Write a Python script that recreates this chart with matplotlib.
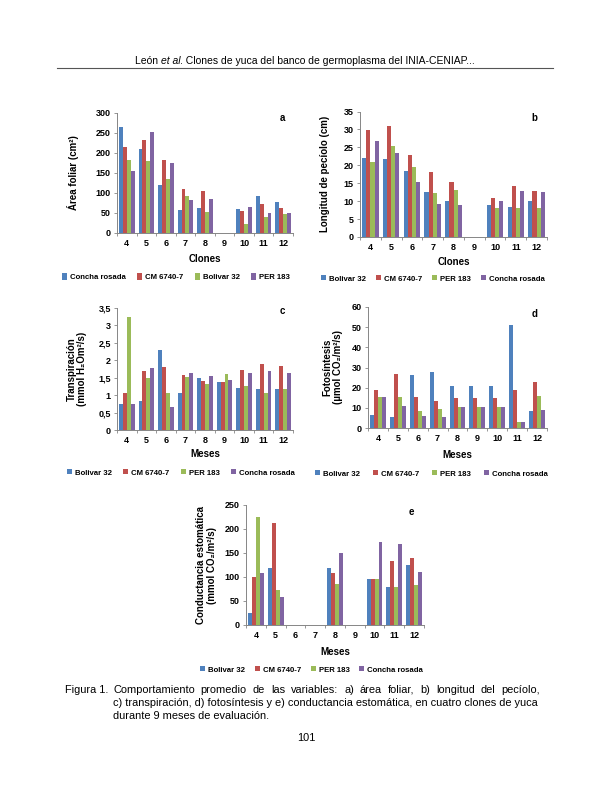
import numpy as np
import matplotlib
matplotlib.use("Agg")
import matplotlib.pyplot as plt

plt.rcParams['font.family'] = ['Liberation Sans', 'DejaVu Sans']

# categories (clones / months)
months = ['4', '5', '6', '7', '8', '9', '10', '11', '12']

# a) leaf area (cm2) - legend: Concha rosada, CM 6740-7, Bolivar 32, PER 183
area_labels = ['Concha rosada', 'CM 6740-7', 'Bolivar 32', 'PER 183']
area_s1 = [264, 211, 121, 57, 62, 0, 61, 92, 77]
area_s2 = [215, 232, 182, 110, 104, 0, 56, 73, 63]
area_s3 = [182, 179, 134, 92, 52, 0, 22, 40, 48]
area_s4 = [156, 252, 175, 82, 86, 0, 64, 51, 51]

# shared legend for panels b-e
clone_labels = ['Bolivar 32', 'CM 6740-7', 'PER 183', 'Concha rosada']

# b) petiole length (cm)
pet_bol = [22, 21.8, 18.5, 12.5, 10, 0, 9, 8.5, 10.1]
pet_cm = [29.8, 31, 22.9, 18.2, 15.3, 0, 11, 14.2, 12.9]
pet_per = [21, 25.3, 19.4, 12.2, 13, 0, 8.2, 8, 8.2]
pet_con = [26.8, 23.5, 15.4, 9.3, 8.8, 0, 10, 12.7, 12.5]

# c) transpiration (mmol H2O m2/s)
tra_bol = [0.74, 0.83, 2.29, 1.07, 1.49, 1.39, 1.21, 1.18, 1.18]
tra_cm = [1.07, 1.70, 1.82, 1.58, 1.42, 1.39, 1.72, 1.90, 1.84]
tra_per = [3.24, 1.49, 1.05, 1.52, 1.33, 1.60, 1.25, 1.07, 1.18]
tra_con = [0.75, 1.79, 0.67, 1.64, 1.56, 1.44, 1.63, 1.68, 1.64]

# d) photosynthesis (umol CO2/m2/s)
fot_bol = [6.6, 5.6, 26.1, 27.6, 20.6, 20.6, 20.6, 51.2, 8.2]
fot_cm = [18.8, 26.6, 15.5, 13.2, 15.0, 15.0, 15.0, 18.9, 22.7]
fot_per = [15.3, 15.6, 8.2, 9.4, 10.4, 10.4, 10.4, 3.1, 15.8]
fot_con = [15.3, 11.0, 6.1, 5.6, 10.4, 10.4, 10.4, 3.1, 9.0]

# e) stomatal conductance (mmol CO2/m2/s)
con_bol = [25, 118, 0, 0, 119, 0, 95, 80, 126]
con_cm = [99, 213, 0, 0, 108, 0, 96, 133, 140]
con_per = [226, 72, 0, 0, 85, 0, 96, 80, 83]
con_con = [108, 58, 0, 0, 150, 0, 173, 168, 110]

colors = ['#4F81BD', '#C0504D', '#9BBB59', '#8064A2']

W, H = 612, 792
fig = plt.figure(figsize=(W / 100, H / 100), dpi=100)
renderer = fig.canvas.get_renderer()
LEG_FS = 5.6


def px_axes(left, top, right, bottom):
    return fig.add_axes([left / W, 1 - bottom / H, (right - left) / W, (bottom - top) / H])


def make_legend(bars, labels, cx, cy, colspace, hh):
    return fig.legend(bars, labels, loc='center', ncol=4, frameon=False,
                      bbox_to_anchor=(cx / W, 1 - cy / H),
                      prop={'size': LEG_FS, 'weight': 'bold'},
                      handlelength=0.65, handleheight=hh, handletextpad=0.35,
                      columnspacing=colspace, borderpad=0)


def panel(ax, series, labels, ylim, yticks, yticklabels, ylabel, xlabel, letter,
          letter_xy, ylab_x, xlab_y, leg_span, leg_y, hh=0.6):
    x = np.arange(len(months))
    width = 0.2
    bars = []
    for i, (vals, c) in enumerate(zip(series, colors)):
        b = ax.bar(x + (i - 1.5) * width, vals, width, color=c, linewidth=0)
        bars.append(b)
    ax.set_xlim(-0.5, len(months) - 0.5)
    ax.set_ylim(*ylim)
    ax.set_yticks(yticks)
    ax.set_yticklabels(yticklabels, fontsize=6.5, fontweight='bold')
    ax.set_xticks(x)
    ax.set_xticklabels(months, fontsize=6.5, fontweight='bold')
    ax.set_xticks(np.arange(-0.5, len(months)), minor=True)
    ax.tick_params(axis='x', which='major', length=0, pad=4)
    ax.tick_params(axis='x', which='minor', length=2.5, color='#868686', width=0.6)
    ax.tick_params(axis='y', length=2.5, color='#868686', width=0.6, pad=2)
    for s in ['top', 'right']:
        ax.spines[s].set_visible(False)
    for s in ['left', 'bottom']:
        ax.spines[s].set_color('#868686')
        ax.spines[s].set_linewidth(0.7)
    ax.set_ylabel(ylabel, fontsize=7, fontweight='bold', linespacing=1.1)
    ax.yaxis.set_label_coords(ylab_x, 0.5)
    ax.yaxis.label.set_va('center')
    ax.set_xlabel(xlabel, fontsize=7, fontweight='bold')
    ax.xaxis.set_label_coords(0.5, xlab_y)
    ax.xaxis.label.set_va('center')
    ax.text(letter_xy[0], letter_xy[1], letter, transform=ax.transAxes,
            fontsize=7, fontweight='bold', ha='center', va='center')
    # legend fitted to the span it has in the page
    x0, x1 = leg_span
    cx = (x0 + x1) / 2
    cs = 1.5
    leg = make_legend(bars, labels, cx, leg_y, cs, hh)
    w = leg.get_window_extent(renderer).width
    leg.remove()
    cs = max(0.3, cs + (x1 - x0 - w) / 3 / (LEG_FS * 100 / 72))
    make_legend(bars, labels, cx, leg_y, cs, hh)


# a
ax = px_axes(117, 113, 293, 233)
panel(ax, [area_s1, area_s2, area_s3, area_s4], area_labels, (0, 300),
      range(0, 301, 50), [str(v) for v in range(0, 301, 50)],
      'Área foliar (cm²)', 'Clones', 'a', (0.94, 0.96), -0.25, -0.217,
      (62, 290), 277, hh=1.0)

# b
ax = px_axes(360, 111.5, 547, 237)
panel(ax, [pet_bol, pet_cm, pet_per, pet_con], clone_labels, (0, 35),
      range(0, 36, 5), [str(v) for v in range(0, 36, 5)],
      'Longitud de pecíolo (cm)', 'Clones', 'b', (0.93, 0.95), -0.187, -0.2,
      (321, 545), 279)

# c
tc = np.arange(0, 3.51, 0.5)
ax = px_axes(117, 308, 293, 430)
panel(ax, [tra_bol, tra_cm, tra_per, tra_con], clone_labels, (0, 3.5),
      tc, [f'{v:g}'.replace('.', ',') for v in tc],
      'Transpiración\n(mmol H₂Om²/s)', 'Meses', 'c', (0.94, 0.975), -0.227, -0.197,
      (67, 295), 473)

# d
ax = px_axes(368, 307, 547, 428)
panel(ax, [fot_bol, fot_cm, fot_per, fot_con], clone_labels, (0, 60),
      range(0, 61, 10), [str(v) for v in range(0, 61, 10)],
      'Fotosíntesis\n(µmol CO₂/m²/s)', 'Meses', 'd', (0.93, 0.94), -0.195, -0.223,
      (315, 548), 474)

# e
ax = px_axes(246, 505, 424, 625)
panel(ax, [con_bol, con_cm, con_per, con_con], clone_labels, (0, 250),
      range(0, 251, 50), [str(v) for v in range(0, 251, 50)],
      'Conductancia estomática\n(mmol CO₂/m²/s)', 'Meses', 'e', (0.93, 0.94), -0.22, -0.225,
      (200, 423), 670)

# page header
head_parts = [('León ', 'normal'), ('et al', 'italic'),
              ('. Clones de yuca del banco de germoplasma del INIA-CENIAP...', 'normal')]
widths = []
tmp = []
for txt, st in head_parts:
    t = fig.text(0, 0, txt, fontsize=7.5, style=st)
    widths.append(t.get_window_extent(renderer).width)
    tmp.append(t)
x0 = 305 - sum(widths) / 2
for t, w in zip(tmp, widths):
    t.set_position((x0 / W, 1 - 64 / H))
    t.set_va('baseline')
    x0 += w
fig.add_artist(plt.Line2D([57 / W, 553 / W], [1 - 68 / H, 1 - 68 / H], color='#555555', lw=0.8))

# caption
cap1 = 'Comportamiento promedio de las variables: a) área foliar, b) longitud del pecíolo,'
cap2 = 'c) transpiración, d) fotosíntesis y e) conductancia estomática, en cuatro clones de yuca'
cap3 = 'durante 9 meses de evaluación.'


def text_w(s, fs):
    t = fig.text(0, 0, s, fontsize=fs)
    w = t.get_window_extent(renderer).width
    t.remove()
    return w


CAP_FS = 10 * 427 / text_w(cap2, 10)


def justify(text, xl, xr, y):
    words = text.split()
    ws = [text_w(w, CAP_FS) for w in words]
    gap = (xr - xl - sum(ws)) / (len(words) - 1)
    xx = xl
    for w, ww in zip(words, ws):
        fig.text(xx / W, 1 - y / H, w, fontsize=CAP_FS, va='baseline', ha='left')
        xx += ww + gap


fig.text(65 / W, 1 - 693 / H, 'Figura 1.', fontsize=CAP_FS, va='baseline')
justify(cap1, 113, 540, 693)
fig.text(113 / W, 1 - 706 / H, cap2, fontsize=CAP_FS, va='baseline')
fig.text(113 / W, 1 - 719 / H, cap3, fontsize=CAP_FS, va='baseline')
fig.text(306 / W, 1 - 741 / H, '101', fontsize=CAP_FS, ha='center', va='baseline')

fig.savefig('out.png', dpi=100)
